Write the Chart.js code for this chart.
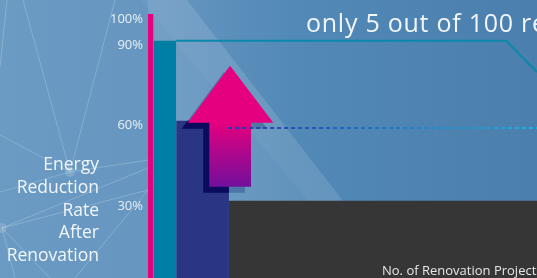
<!DOCTYPE html>
<html>
<head>
<meta charset="utf-8">
<script src="https://cdn.jsdelivr.net/npm/chart.js@4.4.1/dist/chart.umd.min.js"></script>
<style>
  html, body { margin: 0; padding: 0; width: 537px; height: 278px; overflow: hidden; background: #5a8fbb; }
  #wrap { position: relative; width: 537px; height: 278px; }
  #chart { position: absolute; left: 0; top: 0; }
  .txt { position: absolute; color: #f2f6fa; font-family: "Open Sans", sans-serif; white-space: nowrap; }
  #headline { left: 306px; top: 5px; font-size: 25px; letter-spacing: 0.75px; }
  #ytitle { right: 438px; top: 152px; font-size: 17.5px; line-height: 22.75px; text-align: right; }
  #xtitle { left: 382px; top: 261px; font-size: 13px; color: #e6e6e6; }
</style>
</head>
<body>
<div id="wrap">
  <canvas id="chart" width="537" height="278"></canvas>
  <div class="txt" id="headline">only 5 out of 100 renovation projects</div>
  <div class="txt" id="ytitle">Energy<br>Reduction<br>Rate<br>After<br>Renovation</div>
  <div class="txt" id="xtitle">No. of Renovation Projects</div>
</div>
<script>
// x = no. of renovation projects, y = energy reduction rate (%)
var stepEdges = [0, 1.25, 6.4, 18.4, 100];   // block boundaries on the project axis
var stepRates = [100, 90, 60, 30];           // reduction rate of each block
var topLineX = [6.4, 81.4, 88.4];            // 90% outline
var topLineY = [90, 90, 78.3];
var avgLineX = [18.2, 100];                  // dotted line
var avgRate = 57.3;
var arrowX = [18.64, 28.48, 23.41, 23.41, 13.93, 13.93, 9.02];
var arrowY = [80.6, 59.3, 59.3, 35.3, 35.3, 59.3, 59.3];
var yTicks = [30, 60, 90, 100];

var blockColors = ['#e6007e', '#007fa4', '#2a3583', '#363636'];

// Hintergrund: Verlauf, helle Diagonale, Netzlinien links
var bgPlugin = {
    id: 'bg',
    beforeDraw: function(chart) {
        var c = chart.ctx, w = chart.width, h = chart.height;
        c.save();
        var g = c.createLinearGradient(0, 0, w, 0);
        g.addColorStop(0, '#6b9bc3');
        g.addColorStop(0.3, '#6696c0');
        g.addColorStop(0.55, '#5289b6');
        g.addColorStop(1, '#4b7fad');
        c.fillStyle = g;
        c.fillRect(0, 0, w, h);

        c.fillStyle = 'rgba(255,255,255,0.09)';
        c.beginPath();
        c.moveTo(148, 0); c.lineTo(187, 0); c.lineTo(403, 278); c.lineTo(148, 278);
        c.closePath(); c.fill();
        c.fillStyle = 'rgba(255,255,255,0.04)';
        c.beginPath();
        c.moveTo(141, 0); c.lineTo(187, 0); c.lineTo(403, 278); c.lineTo(372, 278);
        c.closePath(); c.fill();

        c.strokeStyle = 'rgba(255,255,255,0.2)';
        c.lineWidth = 1;
        var lines = [
            [7, 0, 0, 67], [23, 0, 70, 172], [115, 0, 70, 172], [0, 135, 70, 172],
            [70, 172, 148, 160], [0, 192, 70, 172], [2, 228, 148, 168], [2, 228, 148, 190],
            [2, 228, 50, 278], [75, 278, 148, 190], [2, 228, 15, 278]
        ];
        lines.forEach(function(l) {
            c.beginPath(); c.moveTo(l[0], l[1]); c.lineTo(l[2], l[3]); c.stroke();
        });
        c.fillStyle = 'rgba(255,255,255,0.15)';
        [[70, 172], [2, 228]].forEach(function(p) {
            c.beginPath(); c.arc(p[0], p[1], 5, 0, Math.PI * 2); c.fill();
        });
        c.restore();
    }
};

// Pfeil mit Schatten, unter der gepunkteten Linie
var arrowPlugin = {
    id: 'arrow',
    beforeDatasetDraw: function(chart, args) {
        if (args.index !== 0) return;
        var ctx = chart.ctx, xs = chart.scales.x, ys = chart.scales.y;
        var pts = arrowX.map(function(v, i) {
            return [xs.getPixelForValue(v), ys.getPixelForValue(arrowY[i])];
        });
        function path(dx, dy) {
            ctx.beginPath();
            pts.forEach(function(p, i) {
                if (i) ctx.lineTo(p[0] + dx, p[1] + dy); else ctx.moveTo(p[0] + dx, p[1] + dy);
            });
            ctx.closePath();
        }
        ctx.save();
        path(-6, 6);
        ctx.fillStyle = 'rgba(10,40,110,0.3)';
        ctx.fill();
        ctx.save();
        var nx0 = xs.getPixelForValue(stepEdges[2]), nx1 = xs.getPixelForValue(stepEdges[3]);
        var ny = ys.getPixelForValue(stepRates[2]);
        ctx.beginPath();
        ctx.rect(nx0, ny, nx1 - nx0, chart.chartArea.bottom - ny);
        ctx.clip();
        path(-6, 6);
        ctx.fillStyle = '#0b0b5d';
        ctx.fill();
        ctx.restore();
        var g = ctx.createLinearGradient(0, ys.getPixelForValue(arrowY[2]), 0, ys.getPixelForValue(arrowY[3]));
        g.addColorStop(0, '#e4007f');
        g.addColorStop(1, '#720f9b');
        path(0, 0);
        ctx.fillStyle = g;
        ctx.fill();
        ctx.restore();
    }
};

function dottedColor(context) {
    var chart = context.chart, area = chart.chartArea;
    if (!area) return '#2a36ad';
    var g = chart.ctx.createLinearGradient(chart.scales.x.getPixelForValue(avgLineX[0]), 0, area.right, 0);
    g.addColorStop(0, '#2a36ad');
    g.addColorStop(1, '#19b4dc');
    return g;
}

var datasets = [{
    data: avgLineX.map(function(x) { return {x: x, y: avgRate}; }),
    borderColor: dottedColor,
    borderWidth: 2,
    borderDash: [4, 3],
    pointRadius: 0,
    fill: false
}, {
    data: topLineX.map(function(x, i) { return {x: x, y: topLineY[i]}; }),
    borderColor: '#0b88ab',
    borderWidth: 2,
    pointRadius: 0,
    fill: false
}];
for (var i = 0; i < stepRates.length; i++) {
    datasets.push({
        data: [{x: stepEdges[i], y: stepRates[i]}, {x: stepEdges[i + 1], y: stepRates[i]}],
        backgroundColor: blockColors[i],
        borderColor: 'rgba(0,0,0,0)',
        borderWidth: 0,
        pointRadius: 0,
        fill: 'origin'
    });
}

var chart = new Chart(document.getElementById('chart').getContext('2d'), {
    type: 'line',
    data: { datasets: datasets },
    options: {
        responsive: false,
        animation: false,
        devicePixelRatio: 1,
        layout: { padding: { top: 14, left: 0, right: 0, bottom: 0 } },
        plugins: { legend: { display: false }, tooltip: { enabled: false } },
        scales: {
            x: { type: 'linear', display: false, min: 0, max: 88.4 },
            y: {
                type: 'linear',
                min: 1.1,
                max: 100,
                afterBuildTicks: function(s) {
                    s.ticks = yTicks.map(function(v) { return {value: v}; });
                },
                afterFit: function(s) {
                    s.width = 148;
                    s.paddingTop = 0;
                    s.paddingBottom = 0;
                },
                grid: { display: false, drawTicks: false },
                border: { display: false },
                ticks: {
                    autoSkip: false,
                    color: '#e9eff5',
                    padding: 5,
                    labelOffset: 5,
                    font: { family: 'Open Sans', size: 13 },
                    callback: function(v) { return v + '%'; }
                }
            }
        }
    },
    plugins: [bgPlugin, arrowPlugin]
});
</script>
</body>
</html>
